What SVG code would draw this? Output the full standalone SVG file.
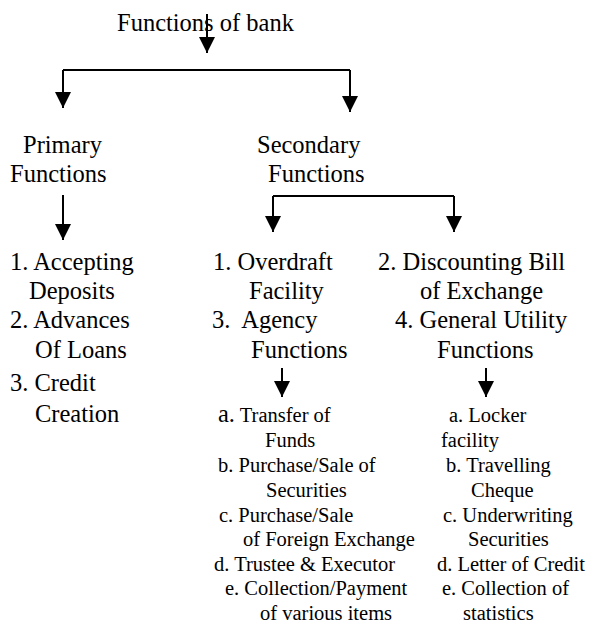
<svg xmlns="http://www.w3.org/2000/svg" width="596" height="625" viewBox="0 0 596 625">
<style>
.tmain{font-family:'Liberation Serif',serif;font-size:24.5px}
.tsub{font-family:'Liberation Serif',serif;font-size:20.5px}
.conn line,.conn path{stroke:#000;stroke-width:2;fill:none}
</style>
<defs>
<marker id="ah" viewBox="0 0 16 16" refX="16" refY="8" markerWidth="16" markerHeight="16" markerUnits="userSpaceOnUse" orient="auto">
<path d="M0,0 L16,8 L0,16 z" fill="#000"/>
</marker>
</defs>
<rect width="596" height="625" fill="#fff"/>
<g id="title"><text class="tmain" x="117" y="31">Functions of bank</text></g>
<g id="primary"><text class="tmain" x="23" y="153">Primary</text><text class="tmain" x="10" y="182">Functions</text></g>
<g id="secondary"><text class="tmain" x="257" y="153">Secondary</text><text class="tmain" x="268" y="182">Functions</text></g>
<g id="primary-list">
<text class="tmain" x="10" y="270">1. Accepting</text>
<text class="tmain" x="29" y="299">Deposits</text>
<text class="tmain" x="10" y="328">2. Advances</text>
<text class="tmain" x="35" y="358">Of Loans</text>
<text class="tmain" x="10" y="391">3. Credit</text>
<text class="tmain" x="35" y="422">Creation</text>
</g>
<g id="secondary-left">
<text class="tmain" x="213" y="270">1. Overdraft</text>
<text class="tmain" x="249" y="299">Facility</text>
<text class="tmain" x="212" y="328" xml:space="preserve">3.  Agency</text>
<text class="tmain" x="251" y="358">Functions</text>
</g>
<g id="secondary-right">
<text class="tmain" x="378" y="270">2. Discounting Bill</text>
<text class="tmain" x="420" y="299">of Exchange</text>
<text class="tmain" x="395" y="328">4. General Utility</text>
<text class="tmain" x="437" y="358">Functions</text>
</g>
<g id="agency-list">
<text class="tsub" x="218" y="422"><tspan font-size="24.5">a.</tspan> Transfer of</text>
<text class="tsub" x="265" y="447">Funds</text>
<text class="tsub" x="218" y="472">b. Purchase/Sale of</text>
<text class="tsub" x="266" y="497">Securities</text>
<text class="tsub" x="219" y="522">c. Purchase/Sale</text>
<text class="tsub" x="243" y="546">of Foreign Exchange</text>
<text class="tsub" x="214" y="571">d. Trustee &amp; Executor</text>
<text class="tsub" x="225" y="595">e. Collection/Payment</text>
<text class="tsub" x="260" y="620">of various items</text>
</g>
<g id="utility-list">
<text class="tsub" x="449" y="422">a. Locker</text>
<text class="tsub" x="441" y="447">facility</text>
<text class="tsub" x="446" y="472">b. Travelling</text>
<text class="tsub" x="471" y="497">Cheque</text>
<text class="tsub" x="443" y="522">c. Underwriting</text>
<text class="tsub" x="468" y="546">Securities</text>
<text class="tsub" x="437" y="571">d. Letter of Credit</text>
<text class="tsub" x="442" y="595">e. Collection of</text>
<text class="tsub" x="463" y="620">statistics</text>
</g>
<g id="connectors" class="conn">
<line x1="207" y1="14" x2="207" y2="53" marker-end="url(#ah)"/>
<path d="M63,70 H350"/>
<line x1="63" y1="70" x2="63" y2="108" marker-end="url(#ah)"/>
<line x1="350" y1="70" x2="350" y2="112" marker-end="url(#ah)"/>
<line x1="63" y1="195" x2="63" y2="240" marker-end="url(#ah)"/>
<path d="M273,196 H454"/>
<line x1="273" y1="196" x2="273" y2="232" marker-end="url(#ah)"/>
<line x1="454" y1="196" x2="454" y2="232" marker-end="url(#ah)"/>
<line x1="282" y1="368" x2="282" y2="397" marker-end="url(#ah)"/>
<line x1="486" y1="368" x2="486" y2="397" marker-end="url(#ah)"/>
</g>
</svg>
